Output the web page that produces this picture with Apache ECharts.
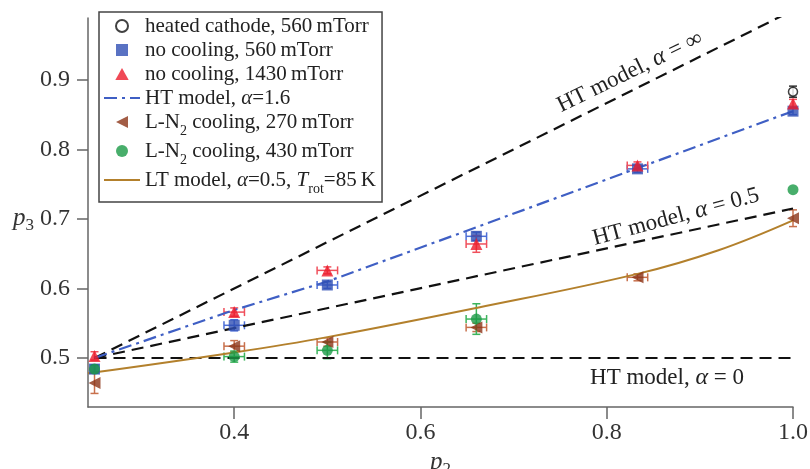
<!DOCTYPE html>
<html>
<head>
<meta charset="utf-8">
<script src="https://cdn.jsdelivr.net/npm/echarts@6/dist/echarts.min.js"></script>
<style>
  html, body { margin: 0; padding: 0; background: #fff; }
  #chart { width: 810px; height: 469px; }
</style>
</head>
<body>
<div id="chart"></div>
<script>
// tick positions
const xTicks = [0.4, 0.6, 0.8, 1.0]
const yTicks = [0.5, 0.6, 0.7, 0.8, 0.9]

// measured points (p2, p3) with error half-widths
const heatedX = [1.0]
const heatedY = [0.883]
const heatedXErr = [0]
const heatedYErr = [0.008]

const noCool560X = [0.25, 0.4, 0.5, 0.66, 0.833, 1.0]
const noCool560Y = [0.484, 0.547, 0.605, 0.675, 0.772, 0.855]
const noCool560XErr = [0, 0.011, 0.011, 0.011, 0.011, 0]
const noCool560YErr = [0.006, 0.008, 0.005, 0.006, 0.005, 0.005]

const noCool1430X = [0.25, 0.4, 0.5, 0.66, 0.833, 1.0]
const noCool1430Y = [0.503, 0.566, 0.626, 0.664, 0.777, 0.866]
const noCool1430XErr = [0, 0.011, 0.011, 0.011, 0.011, 0]
const noCool1430YErr = [0.006, 0.006, 0.005, 0.012, 0.005, 0.006]

const ln270X = [0.25, 0.4, 0.5, 0.66, 0.833, 1.0]
const ln270Y = [0.464, 0.517, 0.523, 0.544, 0.616, 0.701]
const ln270XErr = [0, 0.011, 0.011, 0.011, 0.011, 0]
const ln270YErr = [0.015, 0.008, 0.006, 0.006, 0.005, 0.012]

const ln430X = [0.25, 0.4, 0.5, 0.66, 1.0]
const ln430Y = [0.484, 0.502, 0.511, 0.556, 0.742]
const ln430XErr = [0, 0.011, 0.011, 0.011, 0]
const ln430YErr = [0.006, 0.008, 0.012, 0.022, 0]

// model curves
const htInfX = [0.25, 1.0]
const htInfY = [0.5, 1.0]
const htHalfX = [0.25, 1.0]
const htHalfY = [0.5, 0.715]
const htZeroX = [0.25, 1.0]
const htZeroY = [0.5, 0.5]
const ht16X = [0.25, 0.4, 0.5, 0.66, 0.833, 1.0]
const ht16Y = [0.5, 0.569, 0.61, 0.688, 0.773, 0.855]
const ltX = [0.243, 0.4, 0.5, 0.66, 0.833, 0.92, 1.0]
const ltY = [0.478, 0.508, 0.53, 0.572, 0.621, 0.655, 0.698]

const serif = 'Liberation Serif'
const zip = (xs, ys) => xs.map((x, i) => [x, ys[i]])

// symbols as paths so legend icons keep their shape
const squareSym = 'path://M0,0 H10 V10 H0 Z'
const triUpSym = 'path://M5,0 L10,9 L0,9 Z'
const triLeftSym = 'path://M10,0 L0,5 L10,10 Z'

const legendLabels = {
  heated: 'heated cathode, 560\u2009mTorr',
  nc560: 'no cooling, 560\u2009mTorr',
  nc1430: 'no cooling, 1430\u2009mTorr',
  ht16: 'HT model, {i|α}=1.6',
  ln270: 'L-N{sub|2} cooling, 270\u2009mTorr',
  ln430: 'L-N{sub|2} cooling, 430\u2009mTorr',
  lt: 'LT model, {i|α}=0.5, {i|T}{sub|rot}=85\u2009K'
}

const richText = {
  i: { fontFamily: serif, fontStyle: 'italic', fontSize: 21, color: '#222' },
  sub: { fontFamily: serif, fontSize: 14, color: '#222', padding: [18, 0, 0, 0] }
}

function errorBars (name, xs, ys, xe, ye, color) {
  return {
    type: 'custom',
    name: name,
    z: 1,
    silent: true,
    data: xs.map((x, i) => [x, ys[i], xe[i], ye[i]]),
    renderItem: function (params, api) {
      const x = api.value(0)
      const y = api.value(1)
      const dx = api.value(2)
      const dy = api.value(3)
      const c = api.coord([x, y])
      const cap = 4
      const style = { stroke: color, lineWidth: 1.5 }
      const kids = []
      const seg = (x1, y1, x2, y2) => kids.push({ type: 'line', shape: { x1, y1, x2, y2 }, style })
      if (dx > 0) {
        const l = api.coord([x - dx, y])[0]
        const r = api.coord([x + dx, y])[0]
        seg(l, c[1], r, c[1])
        seg(l, c[1] - cap, l, c[1] + cap)
        seg(r, c[1] - cap, r, c[1] + cap)
      }
      if (dy > 0) {
        const t = api.coord([x, y + dy])[1]
        const b = api.coord([x, y - dy])[1]
        seg(c[0], t, c[0], b)
        seg(c[0] - cap, t, c[0] + cap, t)
        seg(c[0] - cap, b, c[0] + cap, b)
      }
      return { type: 'group', children: kids }
    }
  }
}

function dashed (name, xs, ys) {
  return {
    type: 'line', name: name, data: zip(xs, ys), symbol: 'none', z: 2,
    lineStyle: { color: '#111', width: 2.2, type: [12, 7] }
  }
}

const annotRich = { i: { fontFamily: serif, fontStyle: 'italic', fontSize: 24, color: '#222' } }

const chart = echarts.init(document.getElementById('chart'))

const option = {
  animation: false,
  grid: { left: 88, right: 17, top: 18, bottom: 62, outerBoundsMode: 'none' },
  xAxis: {
    type: 'value', min: 0.243, max: 1.0,
    name: '{i|p}{s|2}',
    nameLocation: 'middle', nameGap: 32,
    nameTextStyle: {
      rich: {
        i: { fontFamily: serif, fontStyle: 'italic', fontSize: 25, color: '#333' },
        s: { fontFamily: serif, fontSize: 17, color: '#333', padding: [14, 0, 0, 0] }
      }
    },
    splitLine: { show: false },
    axisLine: { lineStyle: { color: '#666', width: 1.5 } },
    axisTick: { customValues: xTicks, length: 12, lineStyle: { color: '#666', width: 1.5 } },
    axisLabel: {
      customValues: xTicks, fontFamily: serif, fontSize: 24, color: '#333', margin: 14,
      formatter: v => v.toFixed(1)
    }
  },
  yAxis: {
    type: 'value', min: 0.4295, max: 0.989,
    name: '{i|p}{s|3}',
    nameLocation: 'middle', nameGap: 54, nameRotate: 0,
    nameTextStyle: {
      padding: [12, 0, 0, 0],
      rich: {
        i: { fontFamily: serif, fontStyle: 'italic', fontSize: 25, color: '#333' },
        s: { fontFamily: serif, fontSize: 17, color: '#333', padding: [14, 0, 0, 0] }
      }
    },
    splitLine: { show: false },
    axisLine: { show: true, lineStyle: { color: '#666', width: 1.5 } },
    axisTick: { show: true, customValues: yTicks, length: 11, lineStyle: { color: '#666', width: 1.5 } },
    axisLabel: {
      customValues: yTicks, fontFamily: serif, fontSize: 24, color: '#333', margin: 18,
      formatter: v => v.toFixed(1)
    }
  },
  legend: {
    orient: 'vertical', left: 99, top: 12,
    data: [
      'heated', 'nc560', 'nc1430',
      { name: 'ht16', itemStyle: { opacity: 0 } },
      'ln270', 'ln430',
      { name: 'lt', itemStyle: { opacity: 0 } }
    ],
    backgroundColor: '#fff',
    borderColor: '#444', borderWidth: 1.5, borderRadius: 0,
    padding: [3, 6, 6, 4],
    itemWidth: 36, itemHeight: 12, itemGap: 2,
    textStyle: { fontFamily: serif, fontSize: 21, lineHeight: 22, color: '#222', rich: richText },
    formatter: name => legendLabels[name]
  },
  graphic: [
    {
      type: 'text', x: 630, y: 72, rotation: 26 * Math.PI / 180,
      style: {
        text: 'HT model, {i|α} = ∞', fontFamily: serif, fontSize: 23, fill: '#222',
        align: 'center', verticalAlign: 'middle', rich: annotRich
      }
    },
    {
      type: 'text', x: 676, y: 217, rotation: 15 * Math.PI / 180,
      style: {
        text: 'HT model, {i|α} = 0.5', fontFamily: serif, fontSize: 23, fill: '#222',
        align: 'center', verticalAlign: 'middle', rich: annotRich
      }
    },
    {
      type: 'text', x: 667, y: 378,
      style: {
        text: 'HT model, {i|α} = 0', fontFamily: serif, fontSize: 23, fill: '#222',
        align: 'center', verticalAlign: 'middle', rich: annotRich
      }
    }
  ],
  series: [
    dashed('htInf', htInfX, htInfY),
    dashed('htHalf', htHalfX, htHalfY),
    dashed('htZero', htZeroX, htZeroY),
    {
      type: 'line', name: 'ht16', data: zip(ht16X, ht16Y), symbol: 'none', z: 2,
      lineStyle: { color: '#3f5fc4', width: 2.2, type: [13, 5, 3, 5] },
      itemStyle: { color: '#3f5fc4' }
    },
    {
      type: 'line', name: 'lt', data: zip(ltX, ltY), symbol: 'none', smooth: 0.4, z: 2,
      lineStyle: { color: '#b3802c', width: 2 },
      itemStyle: { color: '#b3802c' }
    },
    errorBars('nc560err', noCool560X, noCool560Y, noCool560XErr, noCool560YErr, '#4d6fd6'),
    errorBars('nc1430err', noCool1430X, noCool1430Y, noCool1430XErr, noCool1430YErr, '#f0505c'),
    errorBars('ln270err', ln270X, ln270Y, ln270XErr, ln270YErr, '#c8704c'),
    errorBars('ln430err', ln430X, ln430Y, ln430XErr, ln430YErr, '#3cb45c'),
    errorBars('heatederr', heatedX, heatedY, heatedXErr, heatedYErr, '#333'),
    {
      type: 'scatter', name: 'heated', data: zip(heatedX, heatedY), z: 3,
      symbol: 'circle', symbolSize: 9,
      itemStyle: { color: '#fff', borderColor: '#111', borderWidth: 1.5 }
    },
    {
      type: 'scatter', name: 'nc560', data: zip(noCool560X, noCool560Y), z: 3,
      symbol: squareSym, symbolSize: 11, itemStyle: { color: '#2f4fb4' }
    },
    {
      type: 'scatter', name: 'nc1430', data: zip(noCool1430X, noCool1430Y), z: 4,
      symbol: triUpSym, symbolSize: 12, itemStyle: { color: '#ec1c2c' }
    },
    {
      type: 'scatter', name: 'ln430', data: zip(ln430X, ln430Y), z: 3,
      symbol: 'circle', symbolSize: 11, itemStyle: { color: '#1a9a46' }
    },
    {
      type: 'scatter', name: 'ln270', data: zip(ln270X, ln270Y), z: 4,
      symbol: triLeftSym, symbolSize: 12, itemStyle: { color: '#8c3418' }
    }
  ]
}

chart.setOption(option)
</script>
</body>
</html>
